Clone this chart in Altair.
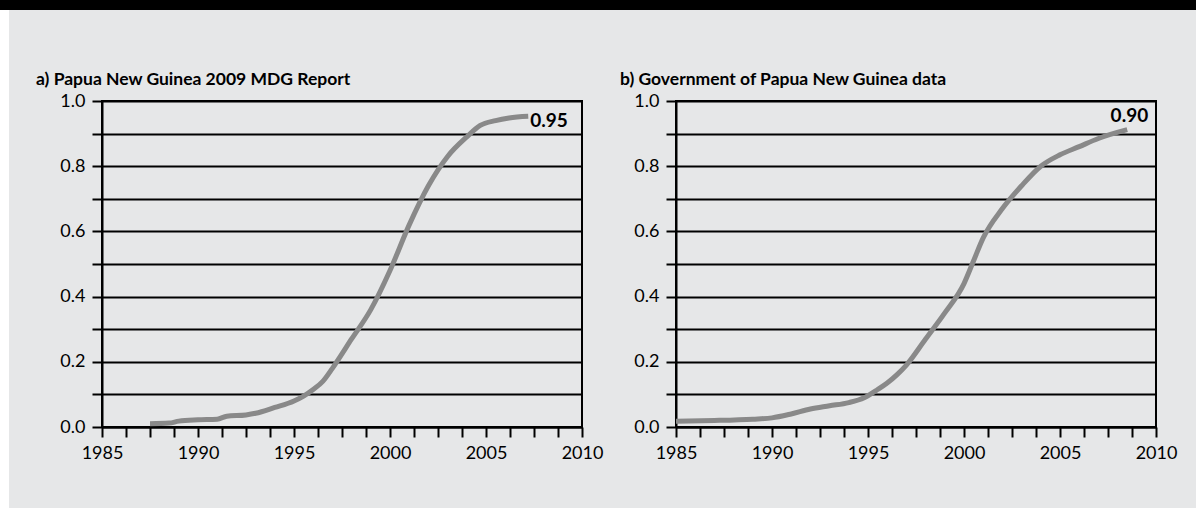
import altair as alt
import pandas as pd

# ---- data ----
years_a = [1987.5, 1988.5, 1989, 1990, 1991, 1991.5, 1992.5, 1993, 1994, 1995, 1995.5,
           1996, 1996.5, 1997, 1998, 1999, 2000, 2001, 2002, 2003, 2004, 2004.7,
           2005.5, 2006.2, 2007.2]
vals_a = [0.010, 0.012, 0.018, 0.022, 0.024, 0.033, 0.037, 0.042, 0.060, 0.080, 0.095,
          0.115, 0.140, 0.180, 0.270, 0.360, 0.480, 0.620, 0.740, 0.830, 0.890, 0.925,
          0.940, 0.948, 0.953]

years_b = [1985, 1987, 1989, 1990, 1991, 1992, 1993, 1994, 1994.8, 1995.5, 1996,
           1996.5, 1997, 1998, 1999, 2000, 2000.5, 2001, 2002, 2003, 2004, 2005,
           2006, 2007, 2008.5]
vals_b = [0.018, 0.020, 0.024, 0.028, 0.040, 0.055, 0.065, 0.075, 0.090, 0.115, 0.135,
          0.160, 0.190, 0.270, 0.350, 0.440, 0.510, 0.580, 0.670, 0.740, 0.800, 0.835,
          0.860, 0.885, 0.912]

titles = ["a) Papua New Guinea 2009 MDG Report", "b) Government of Papua New Guinea data"]
end_labels = ["0.95", "0.90"]

x_ticks = [1985, 1986.25, 1987.5, 1988.75, 1990, 1991.25, 1992.5, 1993.75, 1995,
           1996.25, 1997.5, 1998.75, 2000, 2001.25, 2002.5, 2003.75, 2005, 2006.25,
           2007.5, 2008.75, 2010]
y_ticks = [0.0, 0.1, 0.2, 0.3, 0.4, 0.5, 0.6, 0.7, 0.8, 0.9, 1.0]

LINE_COLOR = "#898989"
BG = "#e6e7e8"
FONT = "Lato"


def panel(years, vals, title, label, title_dx, text_mark):
    df = pd.DataFrame({"year": years, "value": vals})
    x = alt.X("year:Q",
              scale=alt.Scale(domain=[1985, 2010], nice=False, zero=False),
              axis=alt.Axis(values=x_ticks, tickCount=50, grid=False, title=None,
                            labelExpr="datum.value % 5 == 0 ? format(datum.value, 'd') : ''",
                            labelPadding=7, labelOverlap=False, labelFlush=False))
    y = alt.Y("value:Q",
              scale=alt.Scale(domain=[0, 1], nice=False),
              axis=alt.Axis(values=y_ticks, tickCount=50, grid=True, title=None,
                            labelExpr="round(datum.value*10) % 2 == 0 ? format(datum.value, '.1f') : ''",
                            labelPadding=7, labelOverlap=False, labelFlush=False))
    line = alt.Chart(df).mark_line(color=LINE_COLOR, strokeWidth=5, interpolate="monotone",
                                   strokeCap="butt").encode(x=x, y=y)
    end = df.tail(1).assign(label=label)
    text = alt.Chart(end).mark_text(**text_mark).encode(
        x="year:Q", y="value:Q", text="label:N")
    return alt.layer(line, text).properties(
        width=480, height=326,
        title=alt.TitleParams(title, anchor="start", frame="group", dx=title_dx,
                              dy=16, offset=6, baseline="alphabetic"))


pa = panel(years_a, vals_a, titles[0], end_labels[0], -66,
           dict(align="left", baseline="middle", dx=2, dy=5, fontSize=19,
                fontWeight="bold", font=FONT, color="black"))
pb = panel(years_b, vals_b, titles[1], end_labels[1], -56,
           dict(align="right", baseline="alphabetic", dx=21, dy=-8, fontSize=19,
                fontWeight="bold", font=FONT, color="black"))

deco = pd.DataFrame({"k": [0]})
black_bar = alt.Chart(deco).mark_rect(color="black").encode(
    x=alt.value(-102), x2=alt.value(1094), y=alt.value(0), y2=alt.value(10))
white_strip = alt.Chart(deco).mark_rect(color="white").encode(
    x=alt.value(-102), x2=alt.value(-93), y=alt.value(10), y2=alt.value(508))
top = alt.layer(black_bar, white_strip).properties(
    width=480, height=10, view=alt.ViewBackground(stroke=None))

row = alt.hconcat(pa, pb, spacing=94, bounds="flush")
chart = alt.vconcat(top, row, spacing=91, bounds="flush").properties(
    padding={"left": 0, "top": 0, "right": 0, "bottom": 0},
    background=BG,
).configure_view(
    stroke="black", strokeWidth=2, fill=None
).configure_axis(
    labelFont=FONT, labelFontSize=18, labelColor="black",
    domainColor="black", domainWidth=2,
    tickColor="black", tickWidth=2, tickSize=10,
    gridColor="black", gridWidth=2,
).configure_title(
    font=FONT, fontSize=17.5, fontWeight="bold", color="black"
)

chart.save("out.html", embed_options={"renderer": "svg", "actions": False})
